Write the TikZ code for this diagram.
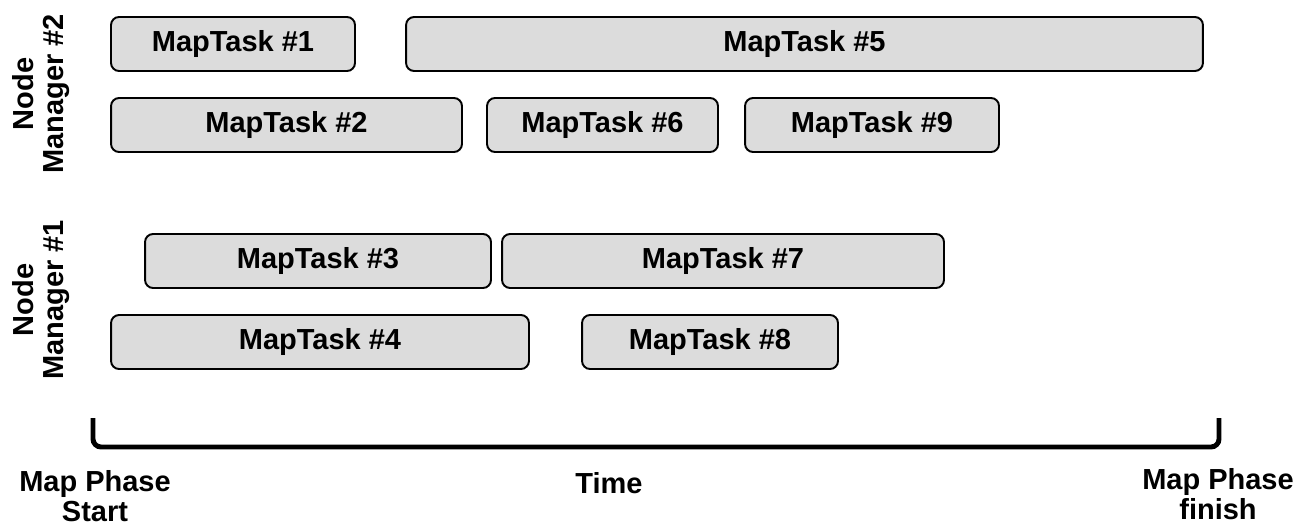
\documentclass[tikz,border=0pt]{standalone}
\usepackage{fontspec}
\setmainfont{Liberation Sans}
\definecolor{taskgray}{RGB}{220,220,220}
\tikzset{
  task/.style={draw, line width=1.1pt, rounded corners=0.16cm, fill=taskgray,
    minimum height=1.08cm, inner sep=0pt,
    font=\fontsize{16.5}{19}\selectfont\bfseries},
  lbl/.style={align=center, inner sep=0pt,
    font=\fontsize{16.5}{17}\selectfont\bfseries},
}
\begin{document}
\begin{tikzpicture}[x=0.02cm,y=-0.02cm]
    \useasboundingbox (0,0) rectangle (1314,527);
    %% node manager 2
    \node[task, minimum width=4.88cm] (t1) at (233,44) {MapTask \#1};
    \node[task, minimum width=15.94cm] (t5) at (804.5,44) {MapTask \#5};
    \node[task, minimum width=7.02cm] (t2) at (286.5,125) {MapTask \#2};
    \node[task, minimum width=4.62cm] (t6) at (602.5,125) {MapTask \#6};
    \node[task, minimum width=5.08cm] (t9) at (872,125) {MapTask \#9};
    \node[lbl, rotate=90] (nm2) at (41,94) {Node\\Manager \#2};
    %% node manager 1
    \node[task, minimum width=6.92cm] (t3) at (318,261) {MapTask \#3};
    \node[task, minimum width=8.84cm] (t7) at (723,261) {MapTask \#7};
    \node[task, minimum width=8.36cm] (t4) at (320,342) {MapTask \#4};
    \node[task, minimum width=5.12cm] (t8) at (710,342) {MapTask \#8};
    \node[lbl, rotate=90] (nm1) at (41,300) {Node\\Manager \#1};
    %% time axis
    \coordinate (start) at (93,418);
    \coordinate (finish) at (1219,418);
    \draw[line width=2.8pt, rounded corners=0.16cm] (start) -- (93,447) -- (1219,447) -- (finish);
    \node[lbl] (mps) at (95,496) {Map Phase\\Start};
    \node[lbl] (time) at (609,483) {Time};
    \node[lbl] (mpf) at (1218,494) {Map Phase\\finish};
\end{tikzpicture}
\end{document}
